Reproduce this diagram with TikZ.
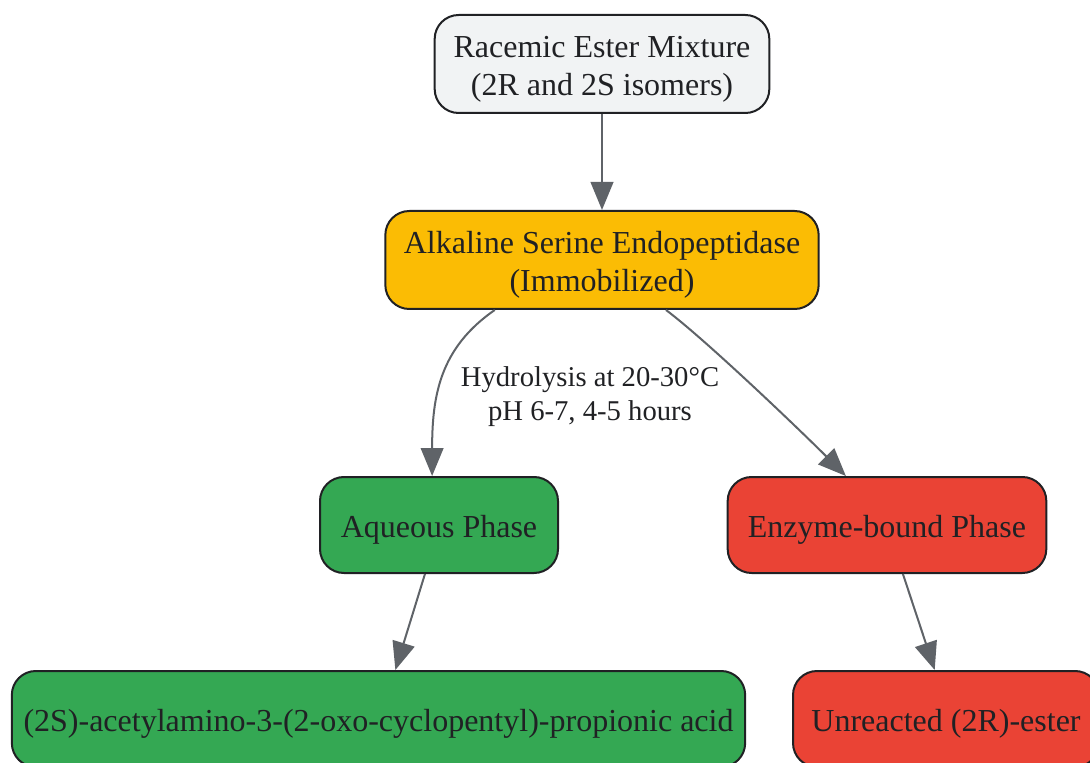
\documentclass[tikz,border=0pt]{standalone}
\usepackage{fontspec}
\setmainfont{Liberation Serif}
\usepackage{tikz}
\usetikzlibrary{arrows.meta}

\definecolor{startgrey}{HTML}{F1F3F4}
\definecolor{enzamber}{HTML}{FBBC04}
\definecolor{phasegreen}{HTML}{34A853}
\definecolor{phasered}{HTML}{EA4335}
\definecolor{boxline}{HTML}{202124}
\definecolor{edgegrey}{HTML}{5F6368}

\tikzset{
  stepnode/.style={draw=boxline, line width=1.5pt, rounded corners=18pt,
    align=center, inner sep=4pt, text=boxline,
    font=\fontsize{24pt}{28.5pt}\selectfont,
    execute at begin node=\rule{0pt}{24pt}},
  twoline/.style={execute at begin node=\rule{0pt}{52.5pt}},
  flowedge/.style={draw=edgegrey, line width=1.5pt,
    -{Triangle[length=21pt,width=17pt]}},
  edgelabel/.style={align=center, inner sep=0pt, text=boxline,
    font=\fontsize{21.5pt}{25.5pt}\selectfont}
}

\begin{document}
\begin{tikzpicture}[x=0.75pt,y=0.75pt,yscale=-1]
\useasboundingbox (0,0) rectangle (1090,763);

% Nodes
\node[stepnode, twoline, fill=startgrey, minimum width=251pt, minimum height=73.5pt] (racemic) at (602,64) {Racemic Ester Mixture\\(2R and 2S isomers)};
\node[stepnode, twoline, fill=enzamber, minimum width=325pt, minimum height=73.5pt] (enzyme) at (602,260) {Alkaline Serine Endopeptidase\\(Immobilized)};
\node[stepnode, fill=phasegreen, minimum width=178.5pt, minimum height=72pt] (aqueous) at (439,525) {Aqueous Phase};
\node[stepnode, fill=phasered, minimum width=239pt, minimum height=72pt] (bound) at (887,525) {Enzyme-bound Phase};
\node[stepnode, fill=phasegreen, minimum width=550pt, minimum height=72pt] (acid) at (378.5,719) {(2S)-acetylamino-3-(2-oxo-cyclopentyl)-propionic acid};
\node[stepnode, fill=phasered, minimum width=229.5pt, minimum height=72pt] (ester) at (946,719) {Unreacted (2R)-ester};

% Edge label
\node[edgelabel] (hydro) at (590,397) {Hydrolysis at 20-30°C\\pH 6-7, 4-5 hours};

% Edges
\draw[flowedge] (racemic) -- (enzyme);
\draw[flowedge] (enzyme.205) .. controls +(-55,38) and +(0,-80) .. (aqueous.98);
\draw[flowedge] (enzyme.322) .. controls +(40,30) and +(-45,-45) .. (bound.130);
\draw[flowedge] (aqueous.254) -- (acid.71);
\draw[flowedge] (bound.288) -- (ester.103);

\end{tikzpicture}
\end{document}
